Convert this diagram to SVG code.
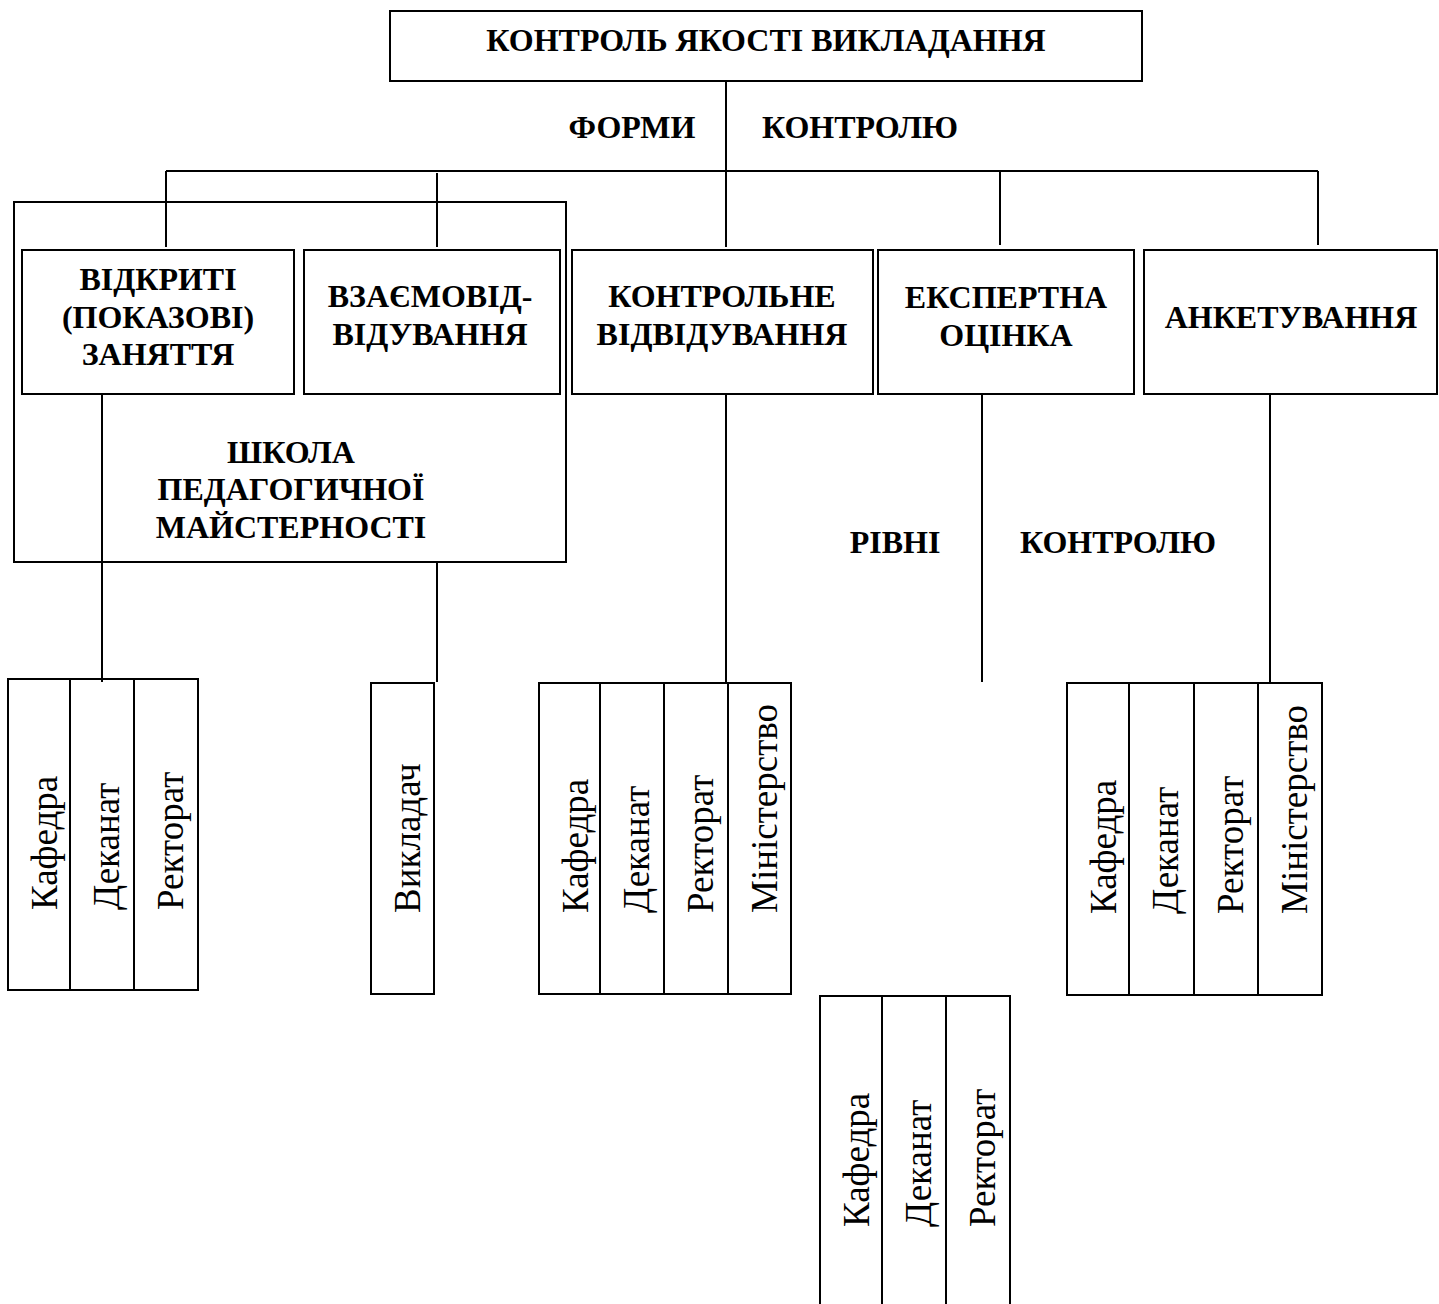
<svg xmlns="http://www.w3.org/2000/svg" width="1439" height="1304" viewBox="0 0 1439 1304">
<style>
rect{fill:none;stroke:#000;stroke-width:2}
line{stroke:#000;stroke-width:2}
text{font-family:"Liberation Serif","Times New Roman",serif;fill:#000}
.h{font-weight:bold;font-size:32px;text-anchor:middle}
.v{font-size:37px}
</style>
<rect x="0" y="0" width="1439" height="1304" style="fill:#fff;stroke:none"/>
<g id="connectors">
<line x1="166" y1="171" x2="1318" y2="171"/>
<line x1="726" y1="82" x2="726" y2="247"/>
<line x1="166" y1="171" x2="166" y2="247"/>
<line x1="437" y1="173" x2="437" y2="247"/>
<line x1="1000" y1="171" x2="1000" y2="245"/>
<line x1="1318" y1="171" x2="1318" y2="245"/>
<line x1="102" y1="394" x2="102" y2="682"/>
<line x1="437" y1="562" x2="437" y2="682"/>
<line x1="726" y1="394" x2="726" y2="683"/>
<line x1="982" y1="394" x2="982" y2="682"/>
<line x1="1270" y1="394" x2="1270" y2="683"/>
</g>
<g id="title">
<rect x="390" y="11" width="752" height="70"/>
<text class="h" x="766" y="51">КОНТРОЛЬ ЯКОСТІ ВИКЛАДАННЯ</text>
</g>
<g id="label-forms">
<text class="h" x="632" y="138">ФОРМИ</text>
<text class="h" x="860" y="138">КОНТРОЛЮ</text>
</g>
<g id="school">
<rect x="14" y="202" width="552" height="360"/>
<text class="h" x="291" y="463">ШКОЛА</text>
<text class="h" x="291" y="500">ПЕДАГОГИЧНОЇ</text>
<text class="h" x="291" y="538">МАЙСТЕРНОСТІ</text>
</g>
<g id="open-lessons">
<rect x="22" y="250" width="272" height="144" style="fill:#fff"/>
<text class="h" x="158" y="290">ВІДКРИТІ</text>
<text class="h" x="158" y="328">(ПОКАЗОВІ)</text>
<text class="h" x="158" y="365">ЗАНЯТТЯ</text>
</g>
<g id="mutual-visits">
<rect x="304" y="250" width="256" height="144" style="fill:#fff"/>
<text class="h" x="430" y="307">ВЗАЄМОВІД-</text>
<text class="h" x="430" y="345">ВІДУВАННЯ</text>
</g>
<g id="control-visits">
<rect x="572" y="250" width="301" height="144"/>
<text class="h" x="722" y="307">КОНТРОЛЬНЕ</text>
<text class="h" x="722" y="345">ВІДВІДУВАННЯ</text>
</g>
<g id="expert">
<rect x="878" y="250" width="256" height="144"/>
<text class="h" x="1006" y="308">ЕКСПЕРТНА</text>
<text class="h" x="1006" y="346">ОЦІНКА</text>
</g>
<g id="survey">
<rect x="1144" y="250" width="293" height="144"/>
<text class="h" x="1291" y="328">АНКЕТУВАННЯ</text>
</g>
<g id="label-levels">
<text class="h" x="895" y="553">РІВНІ</text>
<text class="h" x="1118" y="553">КОНТРОЛЮ</text>
</g>
<g id="levels-1">
<rect x="8" y="679" width="190" height="311"/>
<line x1="70" y1="679" x2="70" y2="990"/>
<line x1="134" y1="679" x2="134" y2="990"/>
<text class="v" transform="translate(57,910) rotate(-90)">Кафедра</text>
<text class="v" transform="translate(119,910) rotate(-90)">Деканат</text>
<text class="v" transform="translate(183,910) rotate(-90)">Ректорат</text>
</g>
<g id="levels-2">
<rect x="371" y="683" width="63" height="311"/>
<text class="v" transform="translate(420,913) rotate(-90)">Викладач</text>
</g>
<g id="levels-3">
<rect x="539" y="683" width="252" height="311"/>
<line x1="600" y1="683" x2="600" y2="994"/>
<line x1="664" y1="683" x2="664" y2="994"/>
<line x1="728" y1="683" x2="728" y2="994"/>
<text class="v" transform="translate(588,913) rotate(-90)">Кафедра</text>
<text class="v" transform="translate(649,913) rotate(-90)">Деканат</text>
<text class="v" transform="translate(713,913) rotate(-90)">Ректорат</text>
<text class="v" transform="translate(777,913) rotate(-90)">Міністерство</text>
</g>
<g id="levels-4">
<rect x="1067" y="683" width="255" height="312"/>
<line x1="1129" y1="683" x2="1129" y2="995"/>
<line x1="1194" y1="683" x2="1194" y2="995"/>
<line x1="1258" y1="683" x2="1258" y2="995"/>
<text class="v" transform="translate(1116,914) rotate(-90)">Кафедра</text>
<text class="v" transform="translate(1178,914) rotate(-90)">Деканат</text>
<text class="v" transform="translate(1243,914) rotate(-90)">Ректорат</text>
<text class="v" transform="translate(1307,914) rotate(-90)">Міністерство</text>
</g>
<g id="levels-5">
<rect x="820" y="996" width="190" height="312"/>
<line x1="882" y1="996" x2="882" y2="1308"/>
<line x1="946" y1="996" x2="946" y2="1308"/>
<text class="v" transform="translate(869,1227) rotate(-90)">Кафедра</text>
<text class="v" transform="translate(931,1227) rotate(-90)">Деканат</text>
<text class="v" transform="translate(995,1227) rotate(-90)">Ректорат</text>
</g>
</svg>
